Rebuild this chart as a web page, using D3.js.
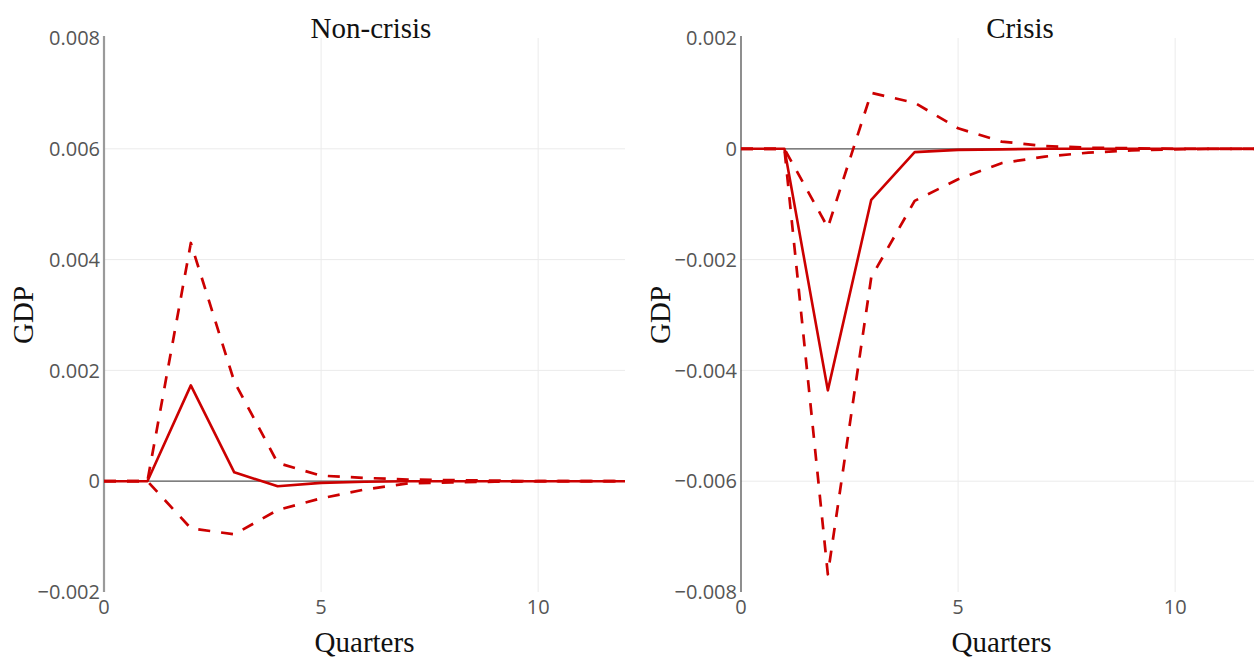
<!DOCTYPE html>
<html>
<head>
<meta charset="utf-8">
<script src="https://cdn.jsdelivr.net/npm/d3@7"></script>
<style>
  html, body { margin: 0; padding: 0; background: #fff; }
  svg { display: block; }
</style>
</head>
<body>
<svg id="chart" width="1254" height="657"></svg>
<script>
// Impulse responses of GDP over 12 quarters: median with upper/lower bands
const quarters = [0, 1, 2, 3, 4, 5, 6, 7, 8, 9, 10, 11, 12];

const nonCrisisMedian = [0, 0, 0.00173, 0.00016, -0.00009, -0.00003, -0.00001, 0, 0, 0, 0, 0, 0];
const nonCrisisUpper  = [0, 0, 0.0043, 0.0018, 0.00033, 0.0001, 0.00006, 0.00003, 0.00002, 0.00001, 0, 0, 0];
const nonCrisisLower  = [0, 0, -0.00085, -0.00096, -0.00052, -0.00031, -0.00015, -0.00004, -0.00002, -0.00001, 0, 0, 0];

const crisisMedian = [0, 0, -0.00436, -0.00092, -0.00006, -0.00002, -0.00001, 0, 0, 0, 0, 0, 0];
const crisisUpper  = [0, 0, -0.00142, 0.00101, 0.00083, 0.00037, 0.00013, 0.00005, 0.00002, 0.00001, 0, 0, 0];
const crisisLower  = [0, 0, -0.00768, -0.00232, -0.00094, -0.00055, -0.00026, -0.00014, -0.00007, -0.00003, -0.00001, 0, 0];

const nonCrisisYTicks = [-0.002, 0, 0.002, 0.004, 0.006, 0.008];
const crisisYTicks = [-0.008, -0.006, -0.004, -0.002, 0, 0.002];
const xTicks = [0, 5, 10];

const panels = [
  {
    title: "Non-crisis", titleX: 371,
    median: nonCrisisMedian, upper: nonCrisisUpper, lower: nonCrisisLower,
    yDomain: [-0.002, 0.008], yTicks: nonCrisisYTicks,
    left: 104, right: 625, axisColor: "#9a9a9a", axisWidth: 2.2, gdpX: 24
  },
  {
    title: "Crisis", titleX: 1020,
    median: crisisMedian, upper: crisisUpper, lower: crisisLower,
    yDomain: [-0.008, 0.002], yTicks: crisisYTicks,
    left: 741, right: 1262, axisColor: "#444", axisWidth: 1.2, gdpX: 661
  }
];

const plotTop = 38, plotBottom = 592;
const red = "#cc0000";
const svg = d3.select("#chart");

const fmtY = v => v === 0 ? "0" : d3.format(".3f")(v).replace("-", "\u2212");

panels.forEach((p, i) => {
  const x = d3.scaleLinear().domain([0, 12]).range([p.left, p.right]);
  const y = d3.scaleLinear().domain(p.yDomain).range([plotBottom, plotTop]);

  const clipId = "clip" + i;
  svg.append("clipPath").attr("id", clipId)
    .append("rect")
    .attr("x", p.left).attr("y", plotTop - 5)
    .attr("width", p.right - p.left).attr("height", plotBottom - plotTop + 10);

  const g = svg.append("g");

  // grid lines
  g.selectAll(".hgrid")
    .data(p.yTicks.filter(t => t !== 0 && t !== p.yDomain[0] && t !== p.yDomain[1]))
    .join("line")
    .attr("x1", p.left).attr("x2", p.right)
    .attr("y1", d => y(d)).attr("y2", d => y(d))
    .attr("stroke", "#ebebeb").attr("stroke-width", 1);

  g.selectAll(".vgrid")
    .data(xTicks.filter(t => t !== 0))
    .join("line")
    .attr("x1", d => x(d)).attr("x2", d => x(d))
    .attr("y1", plotTop).attr("y2", plotBottom)
    .attr("stroke", "#ebebeb").attr("stroke-width", 1);

  // zero line
  g.append("line")
    .attr("x1", p.left).attr("x2", p.right)
    .attr("y1", y(0)).attr("y2", y(0))
    .attr("stroke", "#555").attr("stroke-width", 1.2);

  // y axis line
  g.append("line")
    .attr("x1", p.left).attr("x2", p.left)
    .attr("y1", plotTop - 2).attr("y2", plotBottom)
    .attr("stroke", p.axisColor).attr("stroke-width", p.axisWidth);

  // y tick labels
  g.selectAll(".ylab")
    .data(p.yTicks)
    .join("text")
    .attr("x", p.left - 4)
    .attr("y", d => y(d))
    .attr("dy", "0.36em")
    .attr("text-anchor", "end")
    .attr("font-family", "'Open Sans', sans-serif")
    .attr("font-size", 20)
    .attr("fill", "#555")
    .text(fmtY);

  // x tick labels
  g.selectAll(".xlab")
    .data(xTicks)
    .join("text")
    .attr("x", d => x(d))
    .attr("y", 614)
    .attr("text-anchor", "middle")
    .attr("font-family", "'Open Sans', sans-serif")
    .attr("font-size", 20)
    .attr("fill", "#555")
    .text(d => d);

  // series
  const line = d3.line().x((d, k) => x(quarters[k])).y(d => y(d));
  const series = g.append("g").attr("clip-path", `url(#${clipId})`);

  [p.upper, p.lower].forEach(s => {
    series.append("path")
      .datum(s)
      .attr("d", line)
      .attr("fill", "none")
      .attr("stroke", red)
      .attr("stroke-width", 2.7)
      .attr("stroke-dasharray", "12,11")
      .attr("stroke-linejoin", "round");
  });

  series.append("path")
    .datum(p.median)
    .attr("d", line)
    .attr("fill", "none")
    .attr("stroke", red)
    .attr("stroke-width", 2.6)
    .attr("stroke-linejoin", "round");

  // title
  svg.append("text")
    .attr("x", p.titleX).attr("y", 38)
    .attr("text-anchor", "middle")
    .attr("font-family", "'Liberation Serif', 'Times New Roman', serif")
    .attr("font-size", 29)
    .attr("fill", "#111")
    .text(p.title);

  // x axis title
  svg.append("text")
    .attr("x", (p.left + p.right) / 2).attr("y", 652)
    .attr("text-anchor", "middle")
    .attr("font-family", "'Liberation Serif', 'Times New Roman', serif")
    .attr("font-size", 29)
    .attr("fill", "#111")
    .text("Quarters");

  // y axis title
  svg.append("text")
    .attr("transform", `translate(${p.gdpX + 9},${(plotTop + plotBottom) / 2}) rotate(-90)`)
    .attr("text-anchor", "middle")
    .attr("font-family", "'Liberation Serif', 'Times New Roman', serif")
    .attr("font-size", 29)
    .attr("fill", "#111")
    .text("GDP");
});
</script>
</body>
</html>
